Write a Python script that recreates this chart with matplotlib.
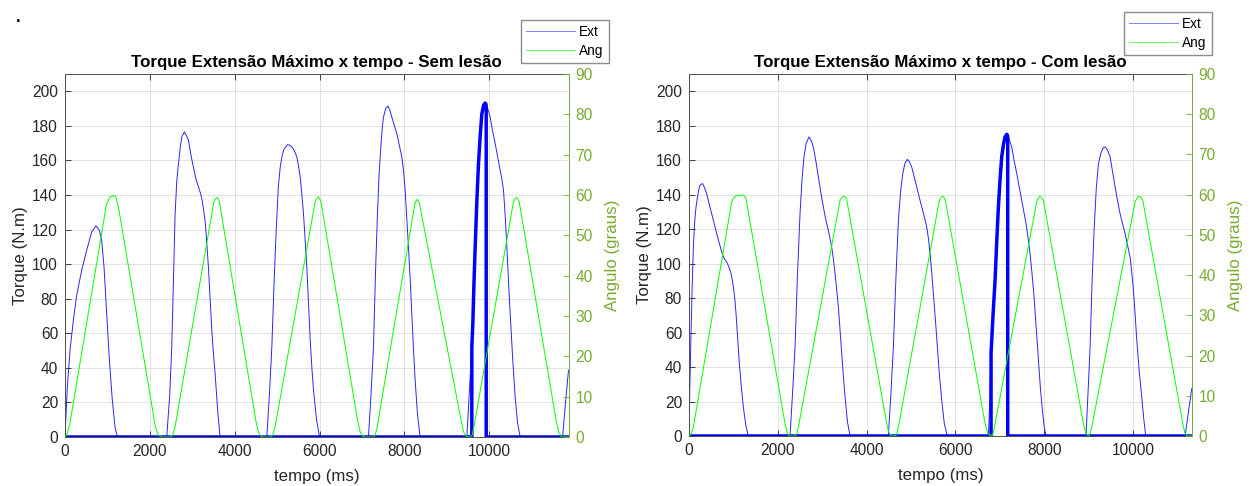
import matplotlib
matplotlib.use('Agg')
import matplotlib.pyplot as plt
from matplotlib.lines import Line2D

plt.rcParams['font.family'] = ['Liberation Sans', 'DejaVu Sans']

# ---------------- data: Sem lesão ----------------
sem_ext_t = [0, 55, 118, 197, 275, 393, 511, 629, 731, 810, 865, 920, 983, 1046, 1116, 1179, 1234,
             2399, 2470, 2517, 2560, 2596, 2635, 2674, 2720, 2753, 2816, 2870, 2910, 2970, 3028, 3090, 3146,
             3200, 3240, 3303, 3340, 3382, 3420, 3461, 3500, 3539, 3600, 3657,
             4758, 4820, 4876, 4930, 4979, 5030, 5073, 5120, 5167, 5246, 5300, 5348, 5410, 5466, 5510, 5545,
             5585, 5623, 5665, 5702, 5745, 5781, 5820, 5859, 5930, 6001,
             7154, 7215, 7272, 7320, 7366, 7405, 7445, 7480, 7508, 7560, 7611, 7660, 7705, 7765, 7823, 7880,
             7941, 7980, 8019, 8060, 8097, 8140, 8176, 8215, 8255, 8310, 8373,
             9473, 9530, 9591, 9615, 9640, 9670, 9710, 9748, 9790, 9827, 9870, 9906, 9960, 10024, 10080,
             10142, 10200, 10259, 10300, 10338, 10380, 10417, 10455, 10495, 10555, 10613, 10670, 10731,
             11731, 11800, 11870]
sem_ext_v = [0, 28.9, 50.1, 67.5, 82, 96.4, 108, 118.6, 122.1, 119.6, 113.8, 98.4, 71.4, 44.4, 21.2, 5.8, 0,
             0, 25, 52, 95, 129, 148, 158, 168, 173.6, 176.5, 174, 171.6, 163, 156, 149, 144.6,
             140.5, 136, 125, 113, 98, 80, 61.7, 48, 36.6, 15, 0,
             0, 25, 52, 90, 119.6, 145, 156, 163, 166.8, 169.1, 168.8, 167.8, 165.5, 162, 156, 150.4,
             140, 129, 113, 98, 75, 56, 40, 27, 10, 0,
             0, 25, 52, 95, 129, 152, 167.8, 179, 185, 190, 191.5, 189, 185, 180, 175.5, 169,
             162, 154, 142.7, 126, 110, 90, 71.4, 51, 32.8, 13, 0,
             0, 25, 52, 66, 88, 110, 137, 158, 175, 187, 192, 193.2, 190.5, 185, 177,
             169.7, 162, 154.3, 149, 142.7, 127, 110, 90, 71.4, 45, 23, 8, 0,
             0, 20, 38.6]
sem_max_t = [0, 9591, 9591, 9615, 9640, 9670, 9710, 9748, 9790, 9827, 9870, 9906, 9925, 9930, 9930, 11870]
sem_max_v = [0, 0, 52, 66, 88, 110, 137, 158, 175, 187, 192, 193.2, 192.5, 191, 0, 0]
sem_ang_t = [0, 50, 118, 980, 1060, 1140, 1200, 1260, 2060, 2130, 2200, 2280,
             2477, 2540, 2594, 3510, 3560, 3593, 3640, 4500, 4560, 4620, 4678,
             4835, 4895, 4953, 5897, 5940, 5975, 6030, 6900, 6960, 7020, 7076,
             7272, 7310, 7351, 8250, 8285, 8309, 8356, 9340, 9400, 9460, 9512,
             9560, 9600, 9640, 10573, 10620, 10653, 10708, 11580, 11640, 11700, 11738, 11870]
sem_ang_v = [0, 0.8, 3.5, 57.8, 59.5, 59.9, 59.5, 57, 7, 2.5, 0.5, 0,
             0, 0.5, 2.5, 58.3, 59.2, 59.4, 58.3, 4, 1.2, 0.2, 0,
             0, 0.5, 2.5, 58.3, 59.2, 59.5, 58.6, 4, 1.2, 0.2, 0,
             0, 0.5, 2.0, 57.9, 58.7, 58.9, 57.9, 4, 1.2, 0.2, 0,
             0, 0.5, 2.5, 58.3, 59.2, 59.4, 58.3, 4, 1.2, 0.2, 0, 0]

# ---------------- data: Com lesão ----------------
com_ext_t = [0, 20, 38, 70, 98, 130, 158, 200, 233, 270, 308, 350, 398, 450, 511, 570, 623, 680, 736, 790,
             848, 900, 939, 970, 999, 1030, 1059, 1095, 1134, 1180, 1224, 1280, 1336,
             2275, 2330, 2388, 2440, 2500, 2545, 2590, 2640, 2703, 2750, 2800, 2860, 2913, 2970, 3026, 3080,
             3138, 3180, 3213, 3250, 3289, 3325, 3364, 3400, 3439, 3475, 3514, 3570, 3626,
             4490, 4545, 4602, 4660, 4715, 4765, 4813, 4860, 4918, 4965, 5015, 5070, 5128, 5185, 5241, 5300,
             5353, 5395, 5428, 5465, 5503, 5550, 5594, 5640, 5691, 5750, 5819,
             6742, 6775, 6802, 6850, 6892, 6930, 6967, 7005, 7042, 7080, 7117, 7155, 7200, 7267, 7320, 7380,
             7440, 7492, 7540, 7590, 7635, 7680, 7725, 7770, 7820, 7868, 7915, 7966, 8000, 8041,
             8941, 8985, 9032, 9075, 9122, 9170, 9219, 9280, 9330, 9369, 9420, 9482, 9540, 9595, 9650, 9707,
             9765, 9820, 9880, 9932, 9970, 10008, 10045, 10083, 10140, 10195, 10240, 10285,
             11171, 11320]
com_ext_v = [0, 30, 51.6, 85, 109.7, 125, 132.9, 140, 144.5, 146, 146.4, 144, 140.6, 135, 129, 123, 117.4, 112,
             106.8, 103, 101, 98, 95.2, 91, 86.5, 80, 71, 57, 42, 28, 16.8, 6, 0,
             0, 24, 51.6, 92, 129, 149, 162, 170, 173.5, 171.5, 167.7, 159, 150.3, 141, 132.9, 125.5,
             119.3, 114, 109.7, 103, 94.2, 85, 74.9, 62, 47.8, 35, 22.6, 8, 0,
             0, 24, 51.6, 92, 125, 142, 152, 158, 160.5, 159, 156, 150.5, 144.5, 138.5, 132.9, 127,
             121.3, 114, 105.8, 95, 82.6, 67, 51.6, 35, 20.7, 7, 0,
             0, 22, 48, 72, 90.3, 113, 132.9, 149, 162, 169, 173.5, 175, 173, 167.7, 160, 152.2,
             144, 136.8, 130.5, 123.2, 115, 105.8, 94, 80.7, 62, 43.9, 27, 13, 5, 0,
             0, 25, 51.6, 88, 119.3, 143, 158, 164.5, 167.2, 167.7, 166, 162, 153, 144.5, 136.5, 129,
             123, 117.4, 110, 103.9, 95, 84.5, 71, 55.5, 37, 22.6, 10, 0,
             0, 27.5]
com_max_t = [0, 6802, 6802, 6850, 6892, 6930, 6967, 7005, 7042, 7080, 7117, 7155, 7172, 7177, 7177, 11320]
com_max_v = [0, 0, 48, 72, 90.3, 113, 132.9, 149, 162, 169, 173.5, 175, 174.5, 173.5, 0, 0]
com_ang_t = [0, 50, 98, 961, 1010, 1059, 1150, 1224, 1260, 1284, 2162, 2210, 2250, 2290,
             2388, 2430, 2463, 3401, 3450, 3499, 3530, 3551, 4452, 4500, 4545, 4580,
             4640, 4680, 4715, 5638, 5680, 5714, 5745, 5774, 6667, 6730, 6794, 6850, 6892,
             7830, 7870, 7905, 7945, 7980, 8881, 8940, 8994, 9030, 9069,
             10045, 10095, 10143, 10180, 10218, 11119, 11165, 11209, 11320]
com_ang_v = [0, 0.6, 2.2, 58.2, 59.3, 59.7, 59.9, 59.9, 59.5, 59, 3.1, 0.9, 0.1, 0,
             0, 0.6, 2.2, 58.6, 59.4, 59.6, 59.3, 58.8, 3.1, 0.9, 0.1, 0,
             0, 0.6, 2.2, 58.6, 59.4, 59.6, 59.3, 58.6, 3.1, 0.6, 0, 0.6, 3.1,
             58.2, 59.3, 59.6, 59.2, 58.6, 3.1, 0.6, 0, 0.4, 2.2,
             58.2, 59.3, 59.6, 59.3, 58.6, 3.1, 0.8, 0, 0]

titles = ['Torque Extensão Máximo x tempo - Sem lesão', 'Torque Extensão Máximo x tempo - Com lesão']
x_limits = [11870, 11320]
x_ticks = [0, 2000, 4000, 6000, 8000, 10000]
torque_ticks = list(range(0, 201, 20))
angle_ticks = list(range(0, 91, 10))
legend_labels = ['Ext', 'Ang']

OLIVE = '#77AC30'
DARK = '#262626'
FS_TICK = 11.2
FS_LABEL = 12.2

fig = plt.figure(figsize=(12.51, 4.86), dpi=100)
W, H = 1251, 486
boxes = [(65, 74, 568.5, 437), (689, 74, 1191.7, 436)]
legend_anchor = [(608.5, 20), (1211.5, 12)]
panels = [(sem_ext_t, sem_ext_v, sem_max_t, sem_max_v, sem_ang_t, sem_ang_v),
          (com_ext_t, com_ext_v, com_max_t, com_max_v, com_ang_t, com_ang_v)]

for i, (et, ev, mt, mv, at, av) in enumerate(panels):
    x0, y0, x1, y1 = boxes[i]
    ax = fig.add_axes([x0 / W, 1 - y1 / H, (x1 - x0) / W, (y1 - y0) / H])
    ax2 = ax.twinx()
    ax.plot(et, ev, color='#0000ff', lw=0.7, alpha=0.85)
    ax.plot(mt, mv, color='#0000ff', lw=2.5, solid_joinstyle='round')
    ax2.plot(at, av, color='#00ff00', lw=0.7)
    ax.set_xlim(0, x_limits[i])
    ax.set_ylim(0, 210)
    ax2.set_ylim(0, 90)
    ax.set_xticks(x_ticks)
    ax.set_yticks(torque_ticks)
    ax2.set_yticks(angle_ticks)
    ax.grid(True, color='#dcdcdc', lw=0.6)
    ax.set_axisbelow(True)
    ax.tick_params(axis='both', direction='in', length=4, width=0.6, colors=DARK,
                   labelsize=FS_TICK, top=True, pad=5)
    ax.tick_params(axis='y', right=False)
    ax2.tick_params(axis='y', direction='in', length=4, width=0.6, colors=OLIVE,
                    labelsize=FS_TICK, pad=5)
    for s in ['left', 'top', 'bottom']:
        ax.spines[s].set_color('#4d4d4d')
        ax.spines[s].set_linewidth(0.7)
        ax2.spines[s].set_visible(False)
    ax.spines['right'].set_visible(False)
    ax2.spines['right'].set_color(OLIVE)
    ax2.spines['right'].set_linewidth(0.7)
    ax.set_xlabel('tempo (ms)', fontsize=FS_LABEL, color=DARK, labelpad=7)
    ax.set_ylabel('Torque (N.m)', fontsize=FS_LABEL, color=DARK, labelpad=3)
    ax2.set_ylabel('Angulo (graus)', fontsize=FS_LABEL, color=OLIVE, labelpad=8.5)
    ax.set_title(titles[i], fontsize=12.2, fontweight='bold', color='black', pad=5)
    h_ext = Line2D([], [], color='#0000ff', lw=0.7, alpha=0.5)
    h_ang = Line2D([], [], color='#00ff00', lw=0.7, alpha=0.6)
    lx, ly = legend_anchor[i]
    fig.legend([h_ext, h_ang], legend_labels, loc='upper right',
               bbox_to_anchor=(lx / W, 1 - ly / H), fontsize=9.8, frameon=True,
               fancybox=False, edgecolor='#8c8c8c', framealpha=1, handlelength=3.6,
               handletextpad=0.35, borderpad=0.35, labelspacing=0.4, borderaxespad=0)

fig.text(18 / W, 1 - 18 / H, '.', fontsize=12, fontweight='bold', ha='center', va='center')

fig.savefig('out.png', dpi=100)
